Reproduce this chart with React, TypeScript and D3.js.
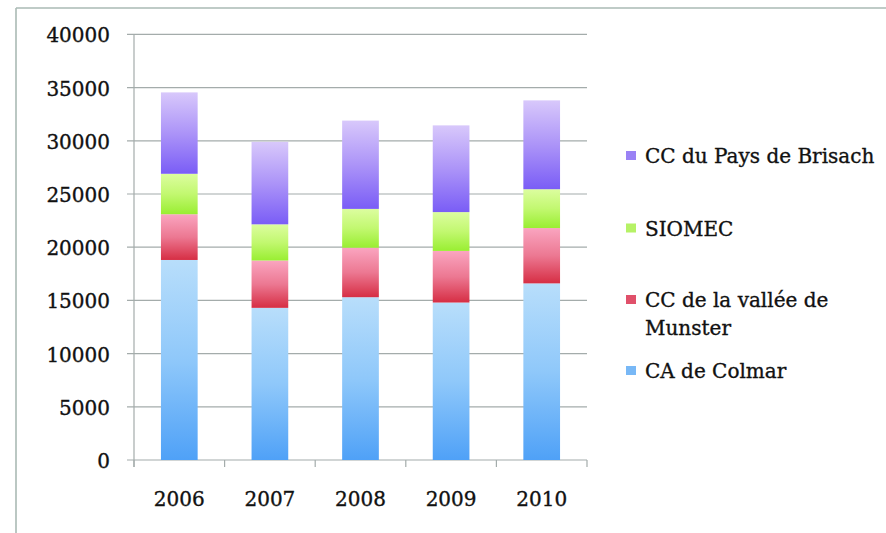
import React from "react";
import * as d3 from "d3";

const years = ["2006", "2007", "2008", "2009", "2010"];
const caColmar = [18800, 14300, 15300, 14800, 16600];
const ccMunster = [4300, 4450, 4650, 4850, 5200];
const siomec = [3800, 3400, 3650, 3650, 3650];
const ccBrisach = [7650, 7750, 8300, 8150, 8350];
const seriesNames = ["CA de Colmar", "CC de la vallée de Munster", "SIOMEC", "CC du Pays de Brisach"];
const yTicks = [0, 5000, 10000, 15000, 20000, 25000, 30000, 35000, 40000];

const W = 886;
const H = 533;
const FONT = "'DejaVu Serif', serif";

const gradients = [
  { id: "g-blue", top: "#b8defb", mid: "#8fc8fa", bottom: "#4fa1f7" },
  { id: "g-red", top: "#faa5c0", mid: "#ec7892", bottom: "#d62e44" },
  { id: "g-green", top: "#dcfd9f", mid: "#c2f870", bottom: "#99ee32" },
  { id: "g-purple", top: "#d8c8fb", mid: "#ac94f8", bottom: "#7a5df6" },
];
const legendColors = ["#78b8f6", "#e0506a", "#b6f266", "#9a82f5"];

const textStyle = {
  fontFamily: FONT,
  fontSize: 20,
  fill: "#111",
  stroke: "#111",
  strokeWidth: 0.35,
};

export default function App() {
  const values = [caColmar, ccMunster, siomec, ccBrisach];
  const rows = years.map((y, i) => {
    const r: any = { year: y };
    seriesNames.forEach((s, k) => (r[s] = values[k][i]));
    return r;
  });
  const stacked = d3.stack().keys(seriesNames)(rows);

  const x = d3.scaleBand().domain(years).range([134, 587]).paddingInner(0.595).paddingOuter(0.2975);
  const y = d3.scaleLinear().domain([0, 40000]).range([460, 34.4]);
  const step = x.step();
  const bw = x.bandwidth();
  const boundaries = [...years.map((c) => (x(c) as number) - (step - bw) / 2), 587];

  const legendItems = [
    { name: ["CC du Pays de Brisach"], color: legendColors[3], base: 163 },
    { name: ["SIOMEC"], color: legendColors[2], base: 235.5 },
    { name: ["CC de la vallée de", "Munster"], color: legendColors[1], base: 307 },
    { name: ["CA de Colmar"], color: legendColors[0], base: 378 },
  ];

  return (
    <svg width={W} height={H} style={{ position: "absolute", left: 0, top: 0, background: "#fff" }}>
      <defs>
        {gradients.map((g) => (
          <linearGradient key={g.id} id={g.id} x1="0" y1="0" x2="0" y2="1">
            <stop offset="0%" stopColor={g.top} />
            <stop offset="50%" stopColor={g.mid} />
            <stop offset="100%" stopColor={g.bottom} />
          </linearGradient>
        ))}
      </defs>
      <rect x={0} y={0} width={W} height={H} fill="#fff" />
      {/* frame */}
      <line x1={16} y1={8} x2={W} y2={8} stroke="#aabab4" strokeWidth={1.6} />
      <line x1={16} y1={8} x2={16} y2={H} stroke="#aabab4" strokeWidth={1.6} />

      {/* gridlines */}
      {yTicks.map((t) => (
        <g key={t}>
          <line x1={127} x2={587} y1={y(t)} y2={y(t)} stroke="#a4acab" strokeWidth={1.2} />
          <text x={110} y={y(t) + 8} textAnchor="end" {...textStyle}>
            {t}
          </text>
        </g>
      ))}
      <line x1={134} x2={134} y1={y(40000)} y2={467} stroke="#a4acab" strokeWidth={1.2} />
      {boundaries.map((b, i) => (
        <line key={i} x1={b} x2={b} y1={460} y2={467} stroke="#a4acab" strokeWidth={1.2} />
      ))}

      {/* bars */}
      {stacked.map((s, k) => (
        <g key={s.key} fill={`url(#${gradients[k].id})`}>
          {s.map((d, i) => (
            <rect
              key={i}
              x={x(years[i])}
              width={bw}
              y={y(d[1])}
              height={y(d[0]) - y(d[1])}
            />
          ))}
        </g>
      ))}

      {/* x labels */}
      {years.map((c) => (
        <text key={c} x={(x(c) as number) + bw / 2} y={506} textAnchor="middle" {...textStyle}>
          {c}
        </text>
      ))}

      {/* legend */}
      {legendItems.map((it, i) => (
        <g key={i}>
          <rect x={626} y={it.base - 12} width={10} height={9} fill={it.color} />
          {it.name.map((line, j) => (
            <text key={j} x={645} y={it.base + j * 27.5} {...textStyle}>
              {line}
            </text>
          ))}
        </g>
      ))}
    </svg>
  );
}
